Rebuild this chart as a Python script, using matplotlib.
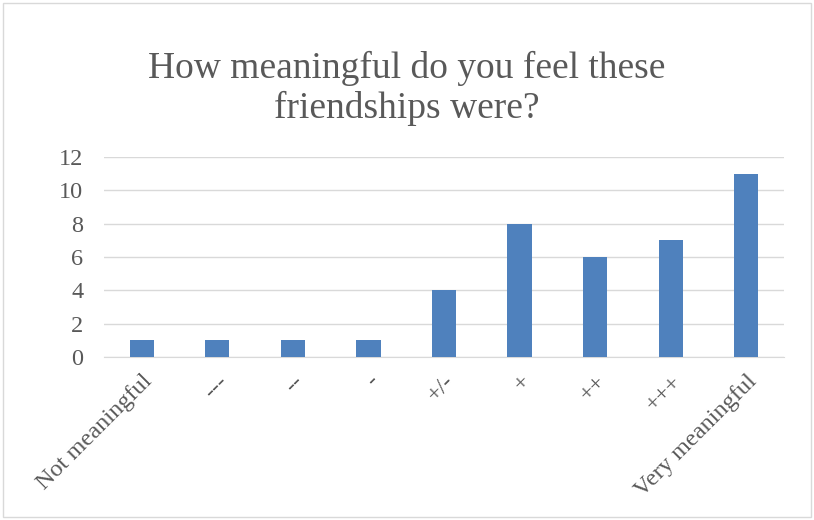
import matplotlib.pyplot as plt
from matplotlib.patches import Rectangle

categories = ["Not meaningful", "---", "--", "-", "+/-", "+", "++", "+++", "Very meaningful"]
counts = [1, 1, 1, 1, 4, 8, 6, 7, 11]
y_ticks = [0, 2, 4, 6, 8, 10, 12]

plt.rcParams['font.family'] = ['Liberation Serif', 'DejaVu Serif']

fig = plt.figure(figsize=(8.14, 5.2), dpi=100)
fig.patches.append(Rectangle((0.004, 0.006), 0.992, 0.988, transform=fig.transFigure,
                             fill=False, edgecolor='#D9D9D9', linewidth=1.0))

ax = fig.add_axes([104 / 814, 1 - 357 / 520, 680 / 814, 200 / 520])
x = list(range(len(categories)))
ax.bar(x, counts, width=0.32, color='#4F81BD', zorder=3)

ax.set_xlim(-0.5, len(categories) - 0.5)
ax.set_ylim(0, 12)
ax.set_yticks(y_ticks)
ax.set_yticklabels([str(v) for v in y_ticks])
ax.yaxis.grid(True, color='#D9D9D9', linewidth=1.0, zorder=0)
ax.set_xticks(x)
ax.set_xticklabels(categories, rotation=45, ha='right', va='top', rotation_mode='anchor')
ax.tick_params(axis='both', length=0, labelsize=17.5, labelcolor='#595959')
ax.tick_params(axis='x', pad=10)
ax.tick_params(axis='y', pad=15)
for s in ['top', 'right', 'left']:
    ax.spines[s].set_visible(False)
ax.spines['bottom'].set_color('#D9D9D9')

fig.text(0.5, 0.83, "How meaningful do you feel these\nfriendships were?", ha='center', va='center',
         fontsize=27, color='#595959', linespacing=1.18)

fig.savefig('out.png', dpi=100)
